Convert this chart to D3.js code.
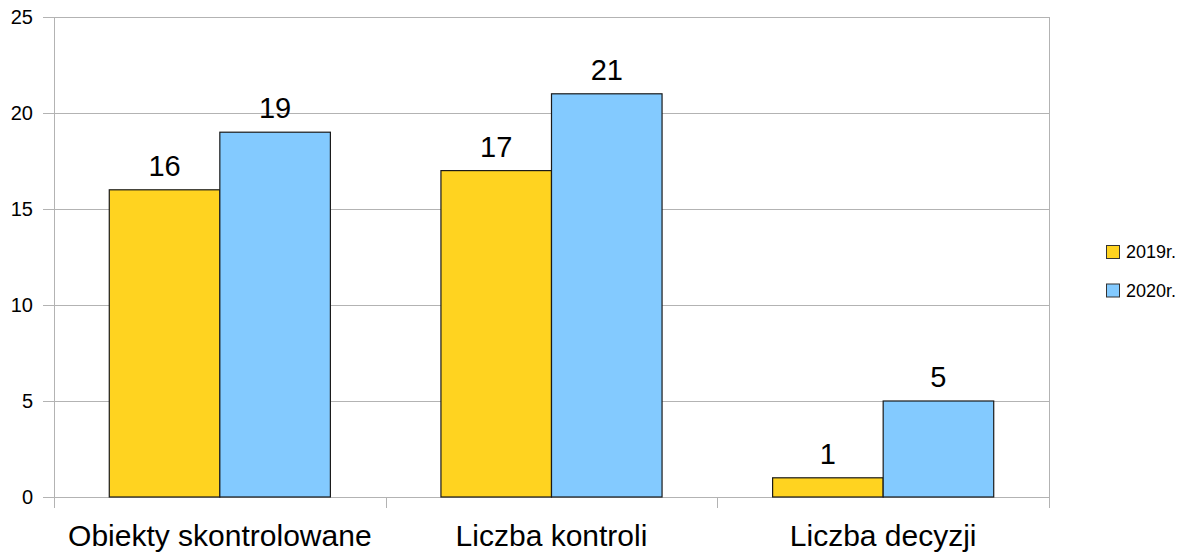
<!DOCTYPE html>
<html>
<head>
<meta charset="utf-8">
<script src="https://cdn.jsdelivr.net/npm/d3@7"></script>
<style>
  body { margin: 0; background: white; }
  svg { display: block; font-family: "Liberation Sans", Arial, sans-serif; }
</style>
</head>
<body>
<script>
// Chart data
const categories = ["Obiekty skontrolowane", "Liczba kontroli", "Liczba decyzji"];
const seriesNames = ["2019r.", "2020r."];
const values2019 = [16, 17, 1];
const values2020 = [19, 21, 5];
const yTicks = [0, 5, 10, 15, 20, 25];
const colors = ["#ffd320", "#83caff"];

const width = 1192, height = 554;
const margin = {top: 17, right: 143, bottom: 57, left: 54};

const svg = d3.select("body").append("svg")
    .attr("width", width)
    .attr("height", height);

const x0 = d3.scaleBand()
    .domain(categories)
    .range([margin.left, width - margin.right])
    .padding(0);

const x1 = d3.scaleBand()
    .domain(seriesNames)
    .range([0, x0.bandwidth()])
    .paddingInner(0)
    .paddingOuter(0.5);

const y = d3.scaleLinear()
    .domain([0, 25])
    .range([height - margin.bottom, margin.top]);

// Gridlines
svg.append("g")
    .selectAll("line")
    .data(yTicks)
    .join("line")
    .attr("x1", margin.left - 11)
    .attr("x2", width - margin.right)
    .attr("y1", d => Math.round(y(d)) + 0.5)
    .attr("y2", d => Math.round(y(d)) + 0.5)
    .attr("stroke", "#b3b3b3")
    .attr("stroke-width", 1);

// Vertical axis line and category separators
const sepX = [margin.left].concat(categories.map(c => x0(c) + x0.bandwidth()));
svg.append("g")
    .selectAll("line")
    .data(sepX)
    .join("line")
    .attr("x1", d => Math.round(d) + 0.5)
    .attr("x2", d => Math.round(d) + 0.5)
    .attr("y1", (d, i) => i === 0 ? margin.top : y(0))
    .attr("y2", y(0) + 11)
    .attr("stroke", "#b3b3b3");

// Right border of plot
svg.append("line")
    .attr("x1", Math.round(width - margin.right) + 0.5)
    .attr("x2", Math.round(width - margin.right) + 0.5)
    .attr("y1", margin.top)
    .attr("y2", y(0))
    .attr("stroke", "#b3b3b3");

// Y tick labels
svg.append("g")
    .selectAll("text")
    .data(yTicks)
    .join("text")
    .attr("x", 33)
    .attr("y", d => y(d))
    .attr("dy", "0.35em")
    .attr("text-anchor", "end")
    .attr("font-size", 20)
    .attr("fill", "#000")
    .text(d => d);

// Bars
const rows = categories.map((c, i) => ({cat: c, vals: [values2019[i], values2020[i]]}));

const groups = svg.append("g")
    .selectAll("g")
    .data(rows)
    .join("g")
    .attr("transform", d => `translate(${x0(d.cat)},0)`);

groups.selectAll("rect")
    .data(d => d.vals.map((v, j) => ({name: seriesNames[j], value: v, j})))
    .join("rect")
    .attr("x", d => x1(d.name))
    .attr("width", x1.bandwidth())
    .attr("y", d => y(d.value))
    .attr("height", d => y(0) - y(d.value))
    .attr("fill", d => colors[d.j])
    .attr("stroke", "#1a1a1a")
    .attr("stroke-width", 1.2);

// Value labels
groups.selectAll("text")
    .data(d => d.vals.map((v, j) => ({name: seriesNames[j], value: v})))
    .join("text")
    .attr("x", d => x1(d.name) + x1.bandwidth() / 2)
    .attr("y", d => y(d.value) - 14)
    .attr("text-anchor", "middle")
    .attr("font-size", 29)
    .attr("fill", "#000")
    .text(d => d.value);

// Category labels
svg.append("g")
    .selectAll("text")
    .data(categories)
    .join("text")
    .attr("x", d => x0(d) + x0.bandwidth() / 2)
    .attr("y", 546)
    .attr("text-anchor", "middle")
    .attr("font-size", 30)
    .attr("fill", "#000")
    .text(d => d);

// Legend
const legend = svg.append("g")
    .selectAll("g")
    .data(seriesNames)
    .join("g")
    .attr("transform", (d, i) => `translate(1106,${245 + i * 38.5})`);

legend.append("rect")
    .attr("x", 0.5)
    .attr("y", 0.5)
    .attr("width", 13)
    .attr("height", 13)
    .attr("fill", (d, i) => colors[i])
    .attr("stroke", "#333")
    .attr("stroke-width", 1);

legend.append("text")
    .attr("x", 20)
    .attr("y", 7)
    .attr("dy", "0.35em")
    .attr("font-size", 18)
    .attr("fill", "#000")
    .text(d => d);
</script>
</body>
</html>
